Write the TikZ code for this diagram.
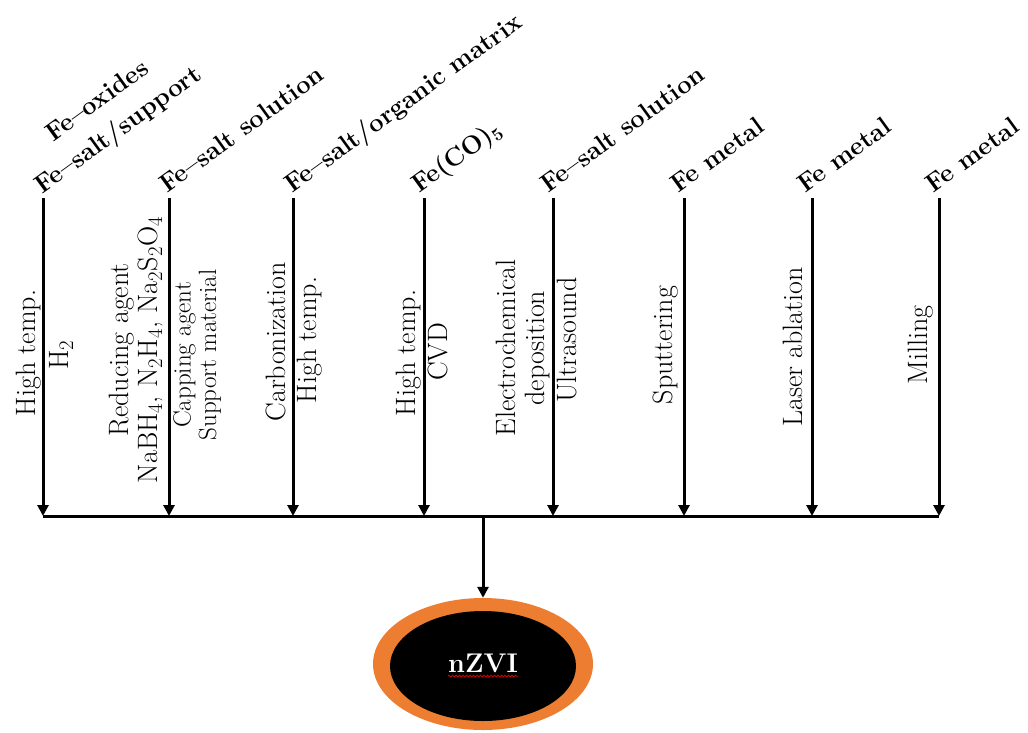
\documentclass[tikz,border=0pt]{standalone}
\usepackage{fontspec}
\usetikzlibrary{arrows.meta,calc,shapes.geometric,decorations.pathmorphing}
\definecolor{nzorange}{HTML}{ED7D31}
\tikzset{
  flow/.style={line width=3pt, -{Triangle[length=11pt,width=11pt]}},
  bar/.style={line width=3pt},
  src/.style={rotate=36, anchor=base west, inner sep=0pt, font=\fontsize{25.5}{30}\selectfont\bfseries},
  lbl/.style={rotate=90, inner sep=0pt, align=center, font=\fontsize{28}{29}\selectfont},
  lblsmall/.style={lbl, font=\fontsize{25}{25.5}\selectfont},
  leftlbl/.style={anchor=south},
  rightlbl/.style={anchor=north},
}
\begin{document}
\begin{tikzpicture}[x=1pt,y=-1pt]
\useasboundingbox (0,0) rectangle (1028,732);
% arrow tops and bottoms
\foreach \i/\x in {1/43,2/169,3/293,4/424,5/553,6/684,7/812,8/939}{
  \coordinate (t\i) at (\x,198);
  \coordinate (b\i) at (\x,516);
}
\coordinate (hub) at (483,516);
% source labels
\node[src] (s1) at (42,195) {Fe–salt/support};
\node[src, anchor=base] (s1a) at ($(s1.base)+(-21,-29)$) {Fe–oxides};
\node[src] (s2) at (167,194) {Fe–salt solution};
\node[src] (s3) at (292,194) {Fe–salt/organic matrix};
\node[src] (s4) at (419,194) {Fe(CO)\textsubscript{5}};
\node[src] (s5) at (548,194) {Fe–salt solution};
\node[src] (s6) at (678,194) {Fe metal};
\node[src] (s7) at (805,194) {Fe metal};
\node[src] (s8) at (933,194) {Fe metal};
% arrows
\foreach \i in {1,...,8}{ \draw[flow] (t\i) -- (b\i); }
\draw[bar] (b1) -- (b8);
% process labels
\node[lbl, leftlbl] (l1) at (41,353) {High temp.};
\node[lbl, rightlbl] (r1) at (49,355) {H$_2$};
\node[lbl, leftlbl] (l2) at (163,350) {Reducing agent\\NaBH$_4$, N$_2$H$_4$, Na$_2$S$_2$O$_4$};
\node[lblsmall, rightlbl] (r2) at (173,355) {Capping agent\\Support material};
\node[lbl, leftlbl] (l3) at (286,342) {Carbonization};
\node[lbl, rightlbl] (r3) at (297,340) {High temp.};
\node[lbl, leftlbl] (l4) at (421,353) {High temp.};
\node[lbl, rightlbl] (r4) at (428,352) {CVD};
\node[lbl, leftlbl] (l5) at (550,348) {Electrochemical\\deposition};
\node[lbl, rightlbl] (r5) at (557,340) {Ultrasound};
\node[lbl, leftlbl] (l6) at (678,345) {Sputtering};
\node[lbl, leftlbl] (l7) at (803,347) {Laser ablation};
\node[lbl, leftlbl] (l8) at (933,345) {Milling};
% product
\node[ellipse, fill=nzorange, inner sep=0pt, minimum width=220pt, minimum height=132pt] (nzvi) at (483,664) {};
\node[ellipse, fill=black, inner sep=0pt, minimum width=186pt, minimum height=110pt] (core) at (483,666) {};
\node[text=white, inner sep=0pt, font=\fontsize{27}{30}\selectfont\bfseries] (txt) at (483,663) {nZVI};
\draw[red!85!black, line width=0.8pt, decorate, decoration={snake, amplitude=0.9pt, segment length=3.5pt}]
  ($(txt.base west)+(0,4)$) -- ($(txt.base east)+(0,4)$);
\draw[flow] (hub) -- (nzvi.north);
\end{tikzpicture}
\end{document}
